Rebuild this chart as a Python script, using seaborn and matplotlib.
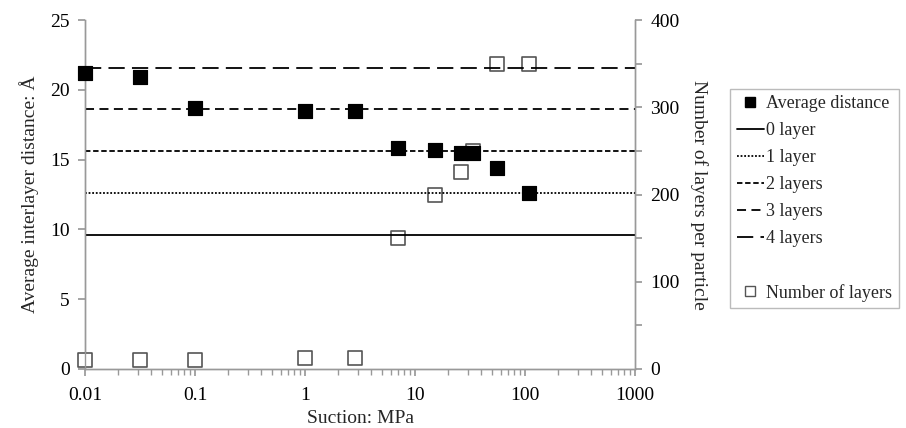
import numpy as np
import pandas as pd
import seaborn as sns
import matplotlib.pyplot as plt
from matplotlib.lines import Line2D

sns.set_theme(style="white")
plt.rcParams['font.family'] = ['Liberation Serif', 'DejaVu Serif']

# 数据：吸力 (MPa)、平均层间距 (Å)、每颗粒层数
suction = [0.01, 0.0316, 0.1, 1.0, 2.85, 7.0, 15.2, 26.2, 33.6, 56.0, 108.0]
avg_distance = [21.2, 20.9, 18.7, 18.5, 18.5, 15.8, 15.7, 15.5, 15.5, 14.4, 12.6]
n_layers = [10, 10, 10, 12, 12, 150, 200, 226, 250, 350, 350]

# 各层数对应的理论层间距
layer_names = ['0 layer', '1 layer', '2 layers', '3 layers', '4 layers']
layer_levels = [9.6, 12.6, 15.6, 18.6, 21.6]
layer_styles = ['-', (0, (1, 1)), (0, (3, 1.5)), (0, (5, 3)), (0, (9, 4))]

df = pd.DataFrame({'suction': suction, 'dist': avg_distance, 'layers': n_layers})

fig = plt.figure(figsize=(9.06, 4.28), dpi=100)
ax = fig.add_axes([0.094, 0.138, 0.607, 0.815])
ax2 = ax.twinx()

# 水平参考线
for name, lvl, ls in zip(layer_names, layer_levels, layer_styles):
    ax.axhline(lvl, color='black', lw=1.3, ls=ls, zorder=1)

sns.scatterplot(data=df, x='suction', y='dist', ax=ax, marker='s', s=110,
                color='black', edgecolor='black', zorder=3, clip_on=False)
sns.scatterplot(data=df, x='suction', y='layers', ax=ax2, marker='s', s=110,
                facecolor='white', edgecolor='#555555', linewidth=1.2, zorder=3,
                clip_on=False)

ax.set_xscale('log')
ax.set_xlim(0.01, 1000)
ax.set_ylim(0, 25)
ax2.set_ylim(0, 400)
ax.set_xticks([0.01, 0.1, 1, 10, 100, 1000])
ax.set_xticklabels(['0.01', '0.1', '1', '10', '100', '1000'])
ax.set_yticks([0, 5, 10, 15, 20, 25])
ax2.set_yticks(np.arange(0, 401, 50))
ax2.set_yticklabels([str(v) if v % 100 == 0 else '' for v in range(0, 401, 50)])

ax.set_xlabel('Suction: MPa', fontsize=14, labelpad=4)
ax.set_ylabel('Average interlayer distance: Å', fontsize=14, labelpad=8)
ax2.set_ylabel('Number of layers per particle', fontsize=14, rotation=270, labelpad=20)

for a in (ax, ax2):
    for side in a.spines:
        a.spines[side].set_color('#999999')
        a.spines[side].set_linewidth(1.0)
    a.spines['top'].set_visible(False)
    a.tick_params(labelsize=14, colors='black')
    a.tick_params(axis='both', which='both', color='#999999', direction='out')
ax.tick_params(axis='x', which='major', length=5, bottom=True, pad=8)
ax.tick_params(axis='x', which='minor', length=4, bottom=True)
ax.tick_params(axis='y', length=5, left=True, pad=6)
ax2.tick_params(axis='y', length=5, right=True, pad=6)
ax.set_zorder(ax2.get_zorder() + 1)
ax.patch.set_visible(False)

# 图例
handles = [Line2D([], [], marker='s', color='black', ls='none', markersize=7)]
for name, ls in zip(layer_names, layer_styles):
    handles.append(Line2D([], [], color='black', lw=1.3, ls=ls))
handles.append(Line2D([], [], ls='none'))
handles.append(Line2D([], [], marker='s', markerfacecolor='white', markeredgecolor='#555555',
                      ls='none', markersize=7))
labels = ['Average distance'] + layer_names + ['', 'Number of layers']
leg = fig.legend(handles, labels, loc='upper left', bbox_to_anchor=(0.806, 0.792),
                 fontsize=13, frameon=True, fancybox=False, handlelength=1.5,
                 handletextpad=0.15, borderpad=0.35, borderaxespad=0,
                 labelspacing=0.55)
leg.get_frame().set_edgecolor('#aaaaaa')

fig.savefig('out.png', dpi=100)
